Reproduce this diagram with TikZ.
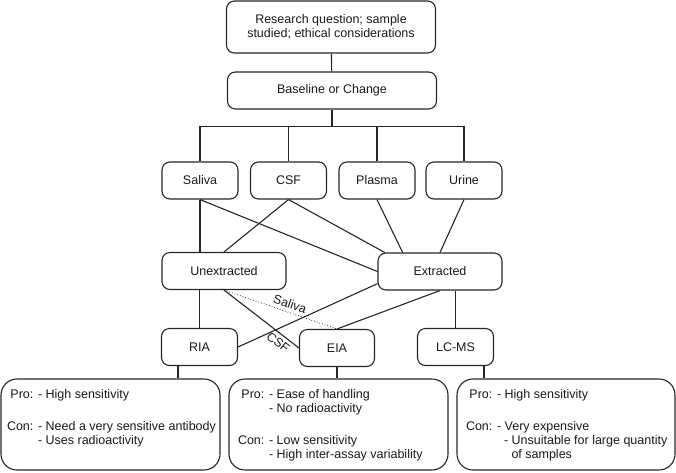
\documentclass[tikz,border=0pt]{standalone}
\usepackage{fontspec}
\setmainfont{Liberation Sans}
\usepackage{tikz}
\usetikzlibrary{calc}
\tikzset{box/.style={draw, rounded corners=8pt, minimum height=37pt, inner sep=2pt, align=center}}
\tikzset{note/.style={draw, rounded corners=16pt, minimum width=219pt, minimum height=91pt}}
\tikzset{every edge/.style={draw}}

\begin{document}
\begin{tikzpicture}[x=1pt, y=-1pt, line width=1.1pt, draw=black!85, text=black!90, font=\fontsize{12.5}{14}\selectfont]
    \useasboundingbox (0,0) rectangle (676,472);

    \node[box, minimum width=209pt, minimum height=52pt] at (331, 27) (Q) {Research question; sample\\studied; ethical considerations};
    \node[box, minimum width=209pt] at (332, 90.5) (Base) {Baseline or Change};

    \node[box, minimum width=76pt] at (200, 180.5) (Saliva) {Saliva};
    \node[box, minimum width=76pt] at (288.5, 180.5) (CSF) {CSF};
    \node[box, minimum width=76pt] at (377, 180.5) (Plasma) {Plasma};
    \node[box, minimum width=76pt] at (464, 180.5) (Urine) {Urine};

    \node[box, minimum width=124pt] at (224, 271) (Unext) {Unextracted};
    \node[box, minimum width=124pt] at (440, 271.5) (Ext) {Extracted};

    \node[box, minimum width=76pt] at (199.5, 347) (RIA) {RIA};
    \node[box, minimum width=75pt] at (337, 348) (EIA) {EIA};
    \node[box, minimum width=76pt] at (455.5, 347) (LCMS) {LC-MS};

    \node[note] at (110.5, 424.5) (RIAnote) {};
    \node[note] at (338.5, 424.5) (EIAnote) {};
    \node[note, minimum width=218pt] at (566, 424.5) (LCnote) {};

    % question -> baseline -> samples
    \draw (Q) -- (Base);
    \draw (Base.south) -- ++(0,17) coordinate (bar);
    \draw (Saliva.north) |- (bar) -| (Urine.north);
    \draw (CSF.north) -- (CSF.north |- bar);
    \draw (Plasma.north) -- (Plasma.north |- bar);

    % samples -> preparation
    \draw (Saliva.south) -- (Saliva.south |- Unext.north);
    \draw (Saliva.south) -- (Ext.west);
    \draw (CSF.south) -- (Unext.north);
    \draw (CSF.south) -- (Ext.161);
    \draw (Plasma.south) -- (Ext.153);
    \draw (Urine.south) -- (Ext.north);

    % preparation -> assay
    \draw (RIA.north) -- (RIA.north |- Unext.south);
    \draw (Unext.south) edge node[below, sloped, pos=0.79] {CSF} (EIA.west);
    \draw (Unext.south) edge[dotted, line width=0.8pt] node[above, sloped, pos=0.56] {Saliva} (EIA.north);
    \draw (Ext.191) -- (RIA.east);
    \draw (Ext.south) -- (EIA.north);
    \draw (LCMS.north) -- (LCMS.north |- Ext.south);

    % assay -> pros and cons
    \draw ([xshift=-21.5pt]RIA.south) -- ([xshift=-21.5pt]RIA.south |- RIAnote.north);
    \draw (EIA.south) -- (EIA.south |- EIAnote.north);
    \draw ([xshift=28.5pt]LCMS.south) -- ([xshift=28.5pt]LCMS.south |- LCnote.north);

    \node[anchor=north west, inner sep=0pt] at ($(RIAnote.north west)+(6,10)$) (RIAtext)
        {\begin{tabular}{@{}r@{ }l@{}}
          Pro: & - High sensitivity\\[18pt]
          Con: & - Need a very sensitive antibody\\
               & - Uses radioactivity
        \end{tabular}};
    \node[anchor=north west, inner sep=0pt] at ($(EIAnote.north west)+(9,10)$) (EIAtext)
        {\begin{tabular}{@{}r@{ }l@{}}
          Pro: & - Ease of handling\\
               & - No radioactivity\\[18pt]
          Con: & - Low sensitivity\\
               & - High inter-assay variability
        \end{tabular}};
    \node[anchor=north west, inner sep=0pt] at ($(LCnote.north west)+(9,10)$) (LCtext)
        {\begin{tabular}{@{}r@{ }l@{}}
          Pro: & - High sensitivity\\[18pt]
          Con: & - Very expensive\\
               & \makebox[7pt]{}- Unsuitable for large quantity\\
               & \makebox[14.5pt]{}of samples
        \end{tabular}};
\end{tikzpicture}
\end{document}
